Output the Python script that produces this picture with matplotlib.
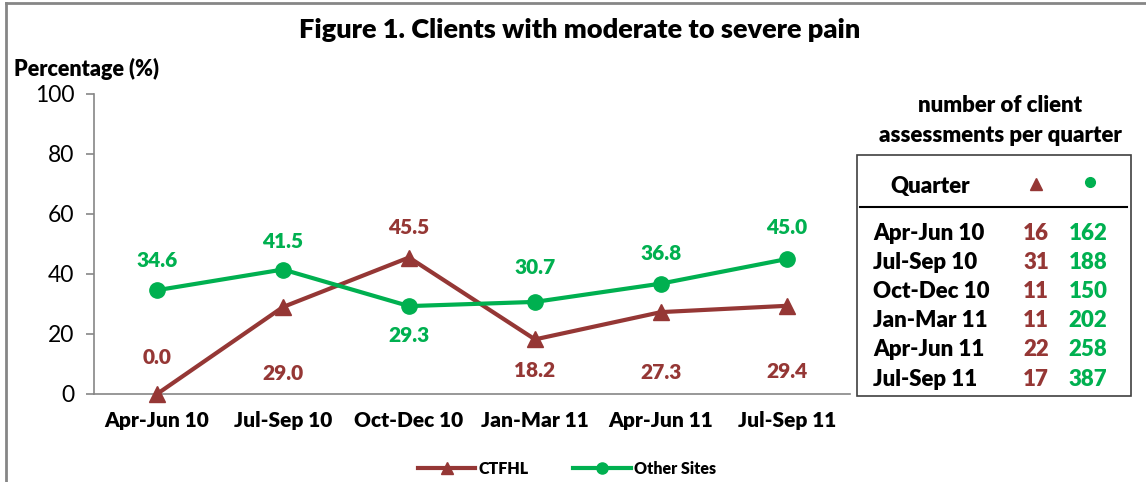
import matplotlib
matplotlib.use("Agg")
import matplotlib.pyplot as plt
from matplotlib.patches import Rectangle
from matplotlib.lines import Line2D

plt.rcParams['font.family'] = ['Lato', 'DejaVu Sans']

quarters = ['Apr-Jun 10', 'Jul-Sep 10', 'Oct-Dec 10', 'Jan-Mar 11', 'Apr-Jun 11', 'Jul-Sep 11']
ctfhl = [0.0, 29.0, 45.5, 18.2, 27.3, 29.4]
other = [34.6, 41.5, 29.3, 30.7, 36.8, 45.0]
n_ctfhl = [16, 31, 11, 11, 22, 17]
n_other = [162, 188, 150, 202, 258, 387]
# label offsets from the point, in pixels (negative = above)
ctfhl_off = [-36, 66, -30, 31, 60, 66]
other_off = [-30, -28, 29, -34, -30, -32]

BROWN = '#953735'
GREEN = '#00B050'
GREY = '#868686'
BOLD = 'heavy'

W, H = 1146, 482
fig = plt.figure(figsize=(W / 100, H / 100), dpi=100)


def fx(x):
    return x / W


def fy(y):
    return 1 - y / H


# outer frame (top and left edges only visible)
fig.add_artist(Line2D([fx(6), fx(W)], [fy(3), fy(3)], color=GREY, lw=2))
fig.add_artist(Line2D([fx(6), fx(6)], [fy(3), fy(H)], color=GREY, lw=2))

ax = fig.add_axes([fx(94), fy(394), fx(850) - fx(94), fy(94) - fy(394)])
x = range(len(quarters))
ax.plot(x, ctfhl, color=BROWN, lw=3, marker='^', ms=12, label='CTFHL', zorder=3, clip_on=False)
ax.plot(x, other, color=GREEN, lw=3, marker='o', ms=11, label='Other Sites', zorder=3, clip_on=False)

for i in x:
    ax.annotate(f'{ctfhl[i]:.1f}', (i, ctfhl[i]), xytext=(0, -ctfhl_off[i] * 0.72),
                textcoords='offset points', ha='center', va='center',
                color=BROWN, fontsize=15, fontweight=BOLD)
    ax.annotate(f'{other[i]:.1f}', (i, other[i]), xytext=(0, -other_off[i] * 0.72),
                textcoords='offset points', ha='center', va='center',
                color=GREEN, fontsize=15, fontweight=BOLD)

ax.set_xlim(-0.5, 5.5)
ax.set_ylim(0, 100)
ax.set_yticks(range(0, 101, 20))
ax.set_xticks(list(x))
ax.set_xticklabels(quarters, fontsize=15, fontweight=BOLD)
ax.tick_params(axis='x', length=0, pad=12)
ax.tick_params(axis='y', length=6, width=1.2, color=GREY, labelsize=16.5, pad=8)
for s in ['top', 'right']:
    ax.spines[s].set_visible(False)
for s in ['left', 'bottom']:
    ax.spines[s].set_color(GREY)
    ax.spines[s].set_linewidth(1.2)
ax.patch.set_alpha(0)

fig.text(fx(580), fy(30), 'Figure 1. Clients with moderate to severe pain',
         ha='center', va='center', fontsize=19.5, fontweight=BOLD)
fig.text(fx(14), fy(69), 'Percentage (%)', ha='left', va='center',
         fontsize=15.5, fontweight=BOLD)

leg = fig.legend(loc='center', bbox_to_anchor=(fx(567), fy(469)), ncol=2,
                 frameon=False, handlelength=3.6, columnspacing=2.8,
                 handletextpad=0.2, prop={'weight': BOLD, 'size': 11.5})
for h in leg.legend_handles:
    h.set_markersize(8)

# side table of assessment counts
fig.text(fx(1000), fy(105), 'number of client', ha='center', va='center',
         fontsize=16, fontweight=BOLD)
fig.text(fx(1000), fy(135), 'assessments per quarter', ha='center', va='center',
         fontsize=16, fontweight=BOLD)
fig.add_artist(Rectangle((fx(857), fy(396)), fx(1131) - fx(857), fy(155) - fy(396),
                         fill=False, edgecolor='#404040', lw=1.2, transform=fig.transFigure))
fig.text(fx(930), fy(186), 'Quarter', ha='center', va='center', fontsize=16, fontweight=BOLD)
fig.add_artist(Line2D([fx(1036)], [fy(184)], marker='^', ms=8, color=BROWN, lw=0))
fig.add_artist(Line2D([fx(1090)], [fy(182)], marker='o', ms=7, color=GREEN, lw=0))
fig.add_artist(Line2D([fx(860), fx(1127)], [fy(207), fy(207)], color='black', lw=1.5))
for i, q in enumerate(quarters):
    yy = fy(233 + 29.2 * i)
    fig.text(fx(873), yy, q, ha='left', va='center', fontsize=16, fontweight=BOLD)
    fig.text(fx(1036), yy, str(n_ctfhl[i]), ha='center', va='center',
             fontsize=16, fontweight=BOLD, color=BROWN)
    fig.text(fx(1088), yy, str(n_other[i]), ha='center', va='center',
             fontsize=16, fontweight=BOLD, color=GREEN)

fig.savefig('out.png', dpi=100)
